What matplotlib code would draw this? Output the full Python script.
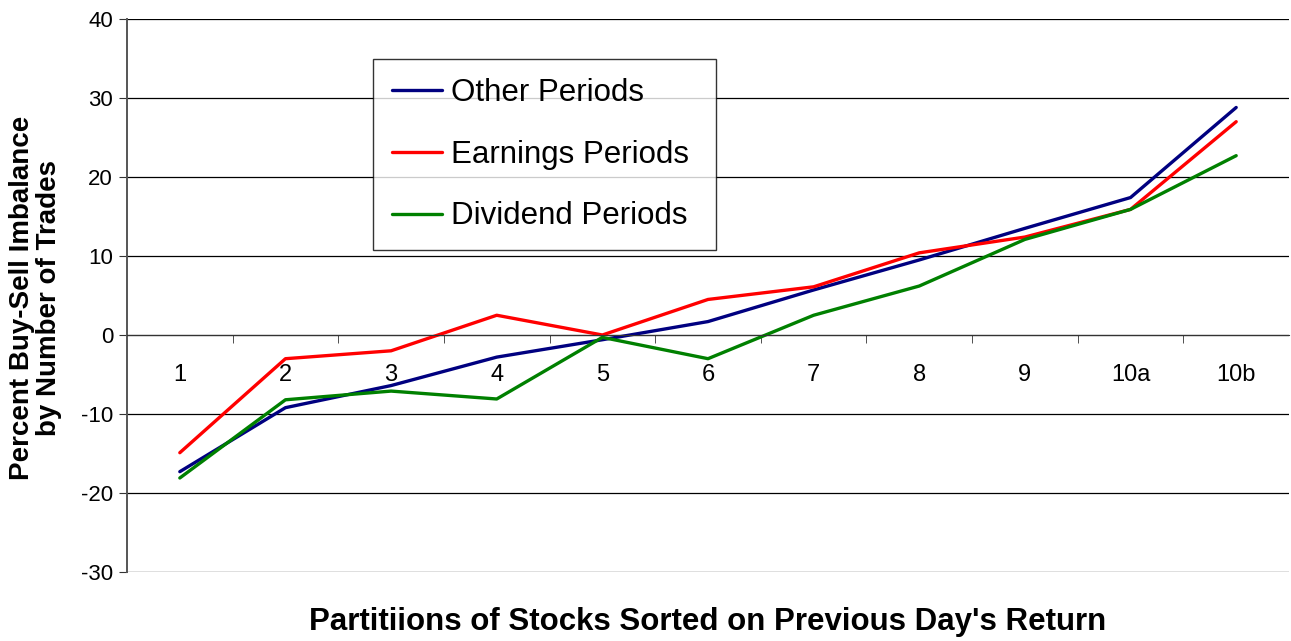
import matplotlib
matplotlib.use("Agg")
import matplotlib.pyplot as plt
import numpy as np

plt.rcParams["font.family"] = ["Liberation Sans", "DejaVu Sans"]
plt.rcParams["axes.unicode_minus"] = False

CATS = ["1", "2", "3", "4", "5", "6", "7", "8", "9", "10a", "10b"]
OTHER = [-17.3, -9.2, -6.4, -2.8, -0.6, 1.7, 5.7, 9.5, 13.5, 17.4, 28.8]
EARNINGS = [-14.9, -3.0, -2.0, 2.5, 0.0, 4.5, 6.1, 10.4, 12.4, 15.9, 27.0]
DIVIDEND = [-18.1, -8.2, -7.1, -8.1, -0.3, -3.0, 2.5, 6.2, 12.1, 15.9, 22.7]

SERIES = [
    ("Other Periods", OTHER, "#000080"),
    ("Earnings Periods", EARNINGS, "#FF0000"),
    ("Dividend Periods", DIVIDEND, "#008000"),
]

fig = plt.figure(figsize=(12.91, 6.41), dpi=100)
ax = fig.add_axes([127 / 1291, 1 - 572 / 641, (1289 - 127) / 1291, (572 - 19) / 641])

x = np.arange(len(CATS))
for name, vals, col in SERIES:
    ax.plot(x, vals, color=col, lw=2.4, label=name, solid_capstyle="round")

ax.set_xlim(-0.5, len(CATS) - 0.5)
ax.set_ylim(-30, 40)
ax.set_yticks(np.arange(-30, 41, 10))
ax.yaxis.grid(True, color="#000000", lw=0.9)
ax.set_axisbelow(True)

for s in ["top", "right"]:
    ax.spines[s].set_visible(False)
# category axis crosses at y=0, labels hang below it
ax.spines["bottom"].set_position(("data", 0))
ax.spines["bottom"].set_color("#333333")
ax.spines["left"].set_color("#555555")
ax.spines["left"].set_linewidth(1.4)

ax.set_xticks(x)
ax.set_xticklabels(CATS)
ax.set_xticks(np.arange(0.5, len(CATS) - 0.5, 1.0), minor=True)
ax.tick_params(axis="x", which="major", length=0, pad=21, labelsize=17)
ax.tick_params(axis="x", which="minor", length=6, color="#333333", direction="out")
ax.tick_params(axis="y", length=6, color="#333333", labelsize=16, pad=4)

fig.text(708 / 1291, 1 - 622 / 641, "Partitiions of Stocks Sorted on Previous Day's Return",
         ha="center", va="center", fontsize=22.5, fontweight="bold")
fig.text(36 / 1291, 1 - 298 / 641, "Percent Buy-Sell Imbalance\nby Number of Trades",
         ha="center", va="center", rotation=90, fontsize=20, fontweight="bold", linespacing=1.05)

leg = ax.legend(loc="upper left", bbox_to_anchor=(373 / 1291, 1 - 249 / 641, 343 / 1291, 190 / 641),
                bbox_transform=fig.transFigure, mode="expand", fontsize=22.5, frameon=True,
                fancybox=False, edgecolor="#000000", handlelength=1.6, handletextpad=0.3,
                labelspacing=1.02, borderpad=0.6, borderaxespad=0)
leg.get_frame().set_linewidth(1.0)

fig.savefig("out.png", dpi=100)
